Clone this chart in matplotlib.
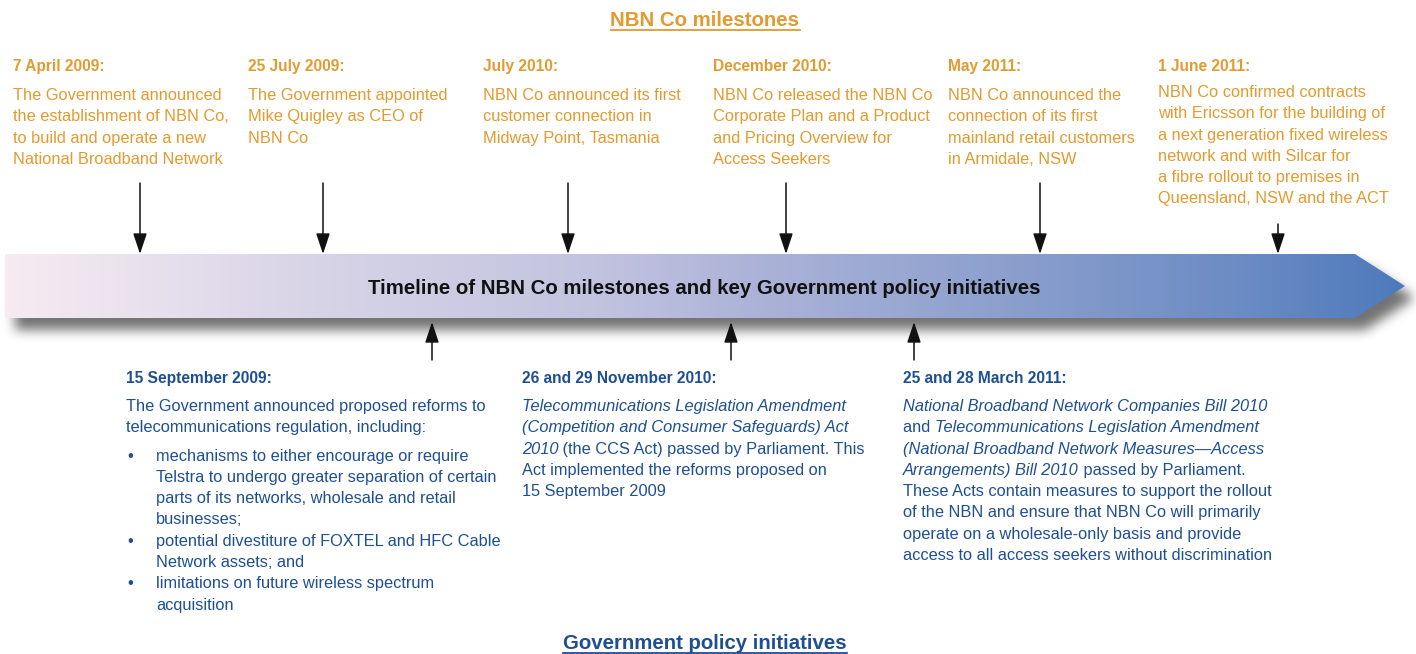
import matplotlib
matplotlib.use("Agg")
import matplotlib.pyplot as plt
from matplotlib.colors import LinearSegmentedColormap
from matplotlib.patches import Polygon
from matplotlib.path import Path
import numpy as np

# ---- data ----
top_title = "NBN Co milestones"
bottom_title = "Government policy initiatives"
band_title = "Timeline of NBN Co milestones and key Government policy initiatives"

top_dates = ["7 April 2009:", "25 July 2009:", "July 2010:", "December 2010:",
             "May 2011:", "1 June 2011:"]
top_texts = [
    ["The Government announced", "the establishment of NBN Co,",
     "to build and operate a new", "National Broadband Network"],
    ["The Government appointed", "Mike Quigley as CEO of", "NBN Co"],
    ["NBN Co announced its first", "customer connection in", "Midway Point, Tasmania"],
    ["NBN Co released the NBN Co", "Corporate Plan and a Product",
     "and Pricing Overview for", "Access Seekers"],
    ["NBN Co announced the", "connection of its first",
     "mainland retail customers", "in Armidale, NSW"],
    ["NBN Co confirmed contracts", "with Ericsson for the building of",
     "a next generation fixed wireless", "network and with Silcar for",
     "a fibre rollout to premises in", "Queensland, NSW and the ACT"],
]

bottom_dates = ["15 September 2009:", "26 and 29 November 2010:", "25 and 28 March 2011:"]
# each line: list of (text, italic)
bottom_intro = [
    [[("The Government announced proposed reforms to", False)],
     [("telecommunications regulation, including:", False)]],
    [[("Telecommunications Legislation Amendment", True)],
     [("(Competition and Consumer Safeguards) Act", True)],
     [("2010", True), (" (the CCS Act) passed by Parliament. This", False)],
     [("Act implemented the reforms proposed on", False)],
     [("15 September 2009", False)]],
    [[("National Broadband Network Companies Bill 2010", True)],
     [("and ", False), ("Telecommunications Legislation Amendment", True)],
     [("(National Broadband Network Measures\u2014Access", True)],
     [("Arrangements) Bill 2010", True), (" passed by Parliament.", False)],
     [("These Acts contain measures to support the rollout", False)],
     [("of the NBN and ensure that NBN Co will primarily", False)],
     [("operate on a wholesale-only basis and provide", False)],
     [("access to all access seekers without discrimination", False)]],
]
bottom_bullets = [
    [["mechanisms to either encourage or require",
      "Telstra to undergo greater separation of certain",
      "parts of its networks, wholesale and retail", "businesses;"],
     ["potential divestiture of FOXTEL and HFC Cable", "Network assets; and"],
     ["limitations on future wireless spectrum", "acquisition"]],
    [],
    [],
]

# ---- layout / style ----
W, H = 1416, 654
orange = "#E39A2E"
blue = "#1E4F93"
font = "Liberation Sans"
body_size = 11.75
head_size = 11.2
line_h = 21.3

top_x = [13, 248, 483, 713, 948, 1158]
top_arrow_x = [140, 323, 568, 786, 1040, 1278]
top_arrow_y0 = [183, 183, 183, 183, 183, 224]
bottom_x = [126, 522, 903]
bottom_arrow_x = [432, 731, 914]

band_top, band_bot, band_left, band_body_right, band_tip = 254, 318, 5, 1355, 1405
band_mid = (band_top + band_bot) / 2

fig = plt.figure(figsize=(W / 100, H / 100), dpi=100)
ax = fig.add_axes([0, 0, 1, 1])
ax.set_xlim(0, W)
ax.set_ylim(H, 0)
ax.axis("off")
renderer = fig.canvas.get_renderer()

band_pts = [(band_left, band_top), (band_body_right, band_top), (band_tip, band_mid),
            (band_body_right, band_bot), (band_left, band_bot)]

# drop shadow (blurred, offset)
def box_blur(a, r, axis):
    pad = [(0, 0), (0, 0)]
    pad[axis] = (r + 1, r)
    c = np.cumsum(np.pad(a, pad), axis=axis)
    n = a.shape[axis]
    hi = np.take(c, np.arange(2 * r + 1, 2 * r + 1 + n), axis=axis)
    lo = np.take(c, np.arange(0, n), axis=axis)
    return (hi - lo) / (2 * r + 1)

yy, xx = np.mgrid[0:H, 0:W]
shadow_path = Path([(x + 10, y + 12) for x, y in band_pts])
mask = shadow_path.contains_points(np.c_[xx.ravel() + 0.5, yy.ravel() + 0.5]).reshape(H, W).astype(float)
for _ in range(3):
    mask = box_blur(mask, 5, 0)
    mask = box_blur(mask, 5, 1)
shadow = np.zeros((H, W, 4))
shadow[..., :3] = 0.42
shadow[..., 3] = mask * 0.95
ax.imshow(shadow, extent=[0, W, H, 0], zorder=1, interpolation="bilinear")

# gradient band
cmap = LinearSegmentedColormap.from_list("band", [
    (0.0, "#F7EBF2"), (0.2, "#DAD6E8"), (0.42, "#C2C3DF"), (0.55, "#AAB1D7"),
    (0.72, "#8B9FCD"), (0.88, "#6C8CC4"), (1.0, "#4D7ABC")])
grad = np.linspace(0, 1, 512).reshape(1, -1)
im = ax.imshow(grad, cmap=cmap, extent=[band_left, band_tip, band_bot, band_top],
               aspect="auto", zorder=2)
band = Polygon(band_pts, closed=True, facecolor="none", edgecolor="none", zorder=2)
ax.add_patch(band)
im.set_clip_path(band)
ax.set_xlim(0, W)
ax.set_ylim(H, 0)

ax.text(704, band_mid + 8, band_title, ha="center", va="baseline", fontsize=14.7,
        fontweight="bold", family=font, color="#111111", zorder=3)

# titles with underline
def underlined(x, y, s, color):
    t = ax.text(x, y, s, ha="center", va="baseline", fontsize=14.7, fontweight="bold",
                family=font, color=color)
    bb = t.get_window_extent(renderer=renderer)
    ax.plot([bb.x0, bb.x1], [y + 3.5, y + 3.5], color=color, lw=1.3)

underlined(705, 26, top_title, orange)
underlined(705, 649, bottom_title, blue)

arrow_kw = dict(arrowstyle="-|>,head_length=0.9,head_width=0.3", color="#111111",
                lw=1.1, shrinkA=0, shrinkB=0, mutation_scale=14)

# top milestones
for i, (date, lines) in enumerate(zip(top_dates, top_texts)):
    x = top_x[i]
    ax.text(x, 71, date, fontsize=head_size, fontweight="bold", family=font,
            color=orange, va="baseline")
    y0 = 100 if i < 5 else 97
    for j, line in enumerate(lines):
        ax.text(x, y0 + j * line_h, line, fontsize=body_size, family=font,
                color=orange, va="baseline")
    ax.annotate("", xy=(top_arrow_x[i], band_top), xytext=(top_arrow_x[i], top_arrow_y0[i]),
                arrowprops=arrow_kw, zorder=3)

# bottom policy initiatives
def seg_line(x, y, segs):
    for s, it in segs:
        t = ax.text(x, y, s, fontsize=body_size, family=font, color=blue, va="baseline",
                    style="italic" if it else "normal")
        x += t.get_window_extent(renderer=renderer).width

for i, date in enumerate(bottom_dates):
    x = bottom_x[i]
    ax.text(x, 383, date, fontsize=head_size, fontweight="bold", family=font,
            color=blue, va="baseline")
    y = 411
    for segs in bottom_intro[i]:
        seg_line(x, y, segs)
        y += line_h
    y += 7
    for bullet in bottom_bullets[i]:
        ax.text(x + 1, y, "\u2022", fontsize=body_size, family=font, color=blue, va="baseline")
        for line in bullet:
            ax.text(x + 30, y, line, fontsize=body_size, family=font, color=blue, va="baseline")
            y += line_h
    ax.annotate("", xy=(bottom_arrow_x[i], 322), xytext=(bottom_arrow_x[i], 360),
                arrowprops=arrow_kw, zorder=3)

fig.savefig("out.png", dpi=100)
